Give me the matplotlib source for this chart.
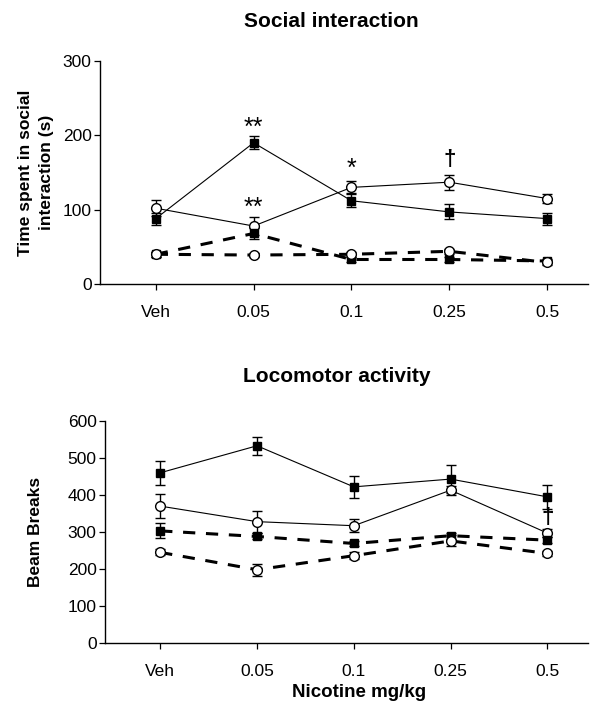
import matplotlib.pyplot as plt
import numpy as np

plt.rcParams['font.family'] = ['Liberation Sans', 'DejaVu Sans']

doses = ['Veh', '0.05', '0.1', '0.25', '0.5']

# Social interaction (s)
si_sq_solid = [88, 190, 112, 97, 88]
si_sq_solid_err = [8, 9, 9, 10, 8]
si_ci_solid = [102, 78, 130, 137, 115]
si_ci_solid_err = [11, 12, 8, 10, 6]
si_sq_dash = [40, 68, 33, 33, 31]
si_sq_dash_err = [3, 7, 3, 3, 3]
si_ci_dash = [40, 39, 40, 44, 29]
si_ci_dash_err = [3, 3, 3, 3, 3]

# Locomotor activity (beam breaks)
lm_sq_solid = [460, 533, 422, 443, 395]
lm_sq_solid_err = [32, 25, 30, 38, 33]
lm_ci_solid = [370, 328, 317, 413, 297]
lm_ci_solid_err = [32, 30, 18, 12, 10]
lm_sq_dash = [303, 288, 269, 290, 278]
lm_sq_dash_err = [20, 8, 6, 8, 8]
lm_ci_dash = [245, 198, 236, 276, 242]
lm_ci_dash_err = [8, 16, 10, 15, 8]

x = np.arange(len(doses))


def draw_series(ax, y, err, marker, ls, lw, face):
    ax.errorbar(x, y, yerr=err, color='black', linestyle=ls, linewidth=lw,
                marker=marker, markersize=7 if marker == 'o' else 6,
                markerfacecolor=face, markeredgecolor='black', markeredgewidth=1,
                ecolor='black', elinewidth=1, capsize=3.5, capthick=1,
                dashes=(4, 3.5) if ls == '--' else (None, None), zorder=3)


def style_axes(ax, ymax, step):
    ax.spines['top'].set_visible(False)
    ax.spines['right'].set_visible(False)
    for s in ('left', 'bottom'):
        ax.spines[s].set_linewidth(1)
    ax.set_xlim(-0.57, 4.42)
    ax.set_ylim(0, ymax)
    ax.set_yticks(np.arange(0, ymax + 1, step))
    ax.set_xticks(x)
    ax.set_xticklabels(doses)
    ax.tick_params(axis='both', labelsize=12.5, length=4, width=0.9, direction='out', pad=2)
    ax.tick_params(axis='x', pad=11)


fig = plt.figure(figsize=(5.9, 7.06), dpi=100)

# --- Social interaction ---
ax1 = fig.add_axes([0.1695, 0.5977, 0.8275, 0.3159])
draw_series(ax1, si_sq_solid, si_sq_solid_err, 's', '-', 0.8, 'black')
draw_series(ax1, si_ci_solid, si_ci_solid_err, 'o', '-', 0.8, 'white')
draw_series(ax1, si_sq_dash, si_sq_dash_err, 's', '--', 2.2, 'black')
draw_series(ax1, si_ci_dash, si_ci_dash_err, 'o', '--', 2.2, 'white')
style_axes(ax1, 300, 100)
ax1.set_ylabel('Time spent in social\ninteraction (s)', fontsize=12.5, fontweight='bold',
               labelpad=6, linespacing=1.55)
fig.text(0.561, 0.969, 'Social interaction', ha='center', va='center',
         fontsize=15, fontweight='bold')
ax1.text(1, 210, '**', ha='center', va='center', fontsize=18)
ax1.text(1, 103, '**', ha='center', va='center', fontsize=18)
ax1.text(2, 155, '*', ha='center', va='center', fontsize=18)
ax1.text(3, 167, '†', ha='center', va='center', fontsize=16, fontweight='bold')

# --- Locomotor activity ---
ax2 = fig.add_axes([0.178, 0.0892, 0.8187, 0.3145])
draw_series(ax2, lm_sq_solid, lm_sq_solid_err, 's', '-', 0.8, 'black')
draw_series(ax2, lm_ci_solid, lm_ci_solid_err, 'o', '-', 0.8, 'white')
draw_series(ax2, lm_sq_dash, lm_sq_dash_err, 's', '--', 2.2, 'black')
draw_series(ax2, lm_ci_dash, lm_ci_dash_err, 'o', '--', 2.2, 'white')
style_axes(ax2, 600, 100)
ax2.set_ylabel('Beam Breaks', fontsize=12.5, fontweight='bold', labelpad=18)
ax2.set_xlabel('Nicotine mg/kg', fontsize=13.5, fontweight='bold')
ax2.xaxis.set_label_coords(0.525, -0.185)
fig.text(0.571, 0.4674, 'Locomotor activity', ha='center', va='center',
         fontsize=15, fontweight='bold')
ax2.text(4, 338, '†', ha='center', va='center', fontsize=16, fontweight='bold')

fig.savefig('out.png', dpi=100)
